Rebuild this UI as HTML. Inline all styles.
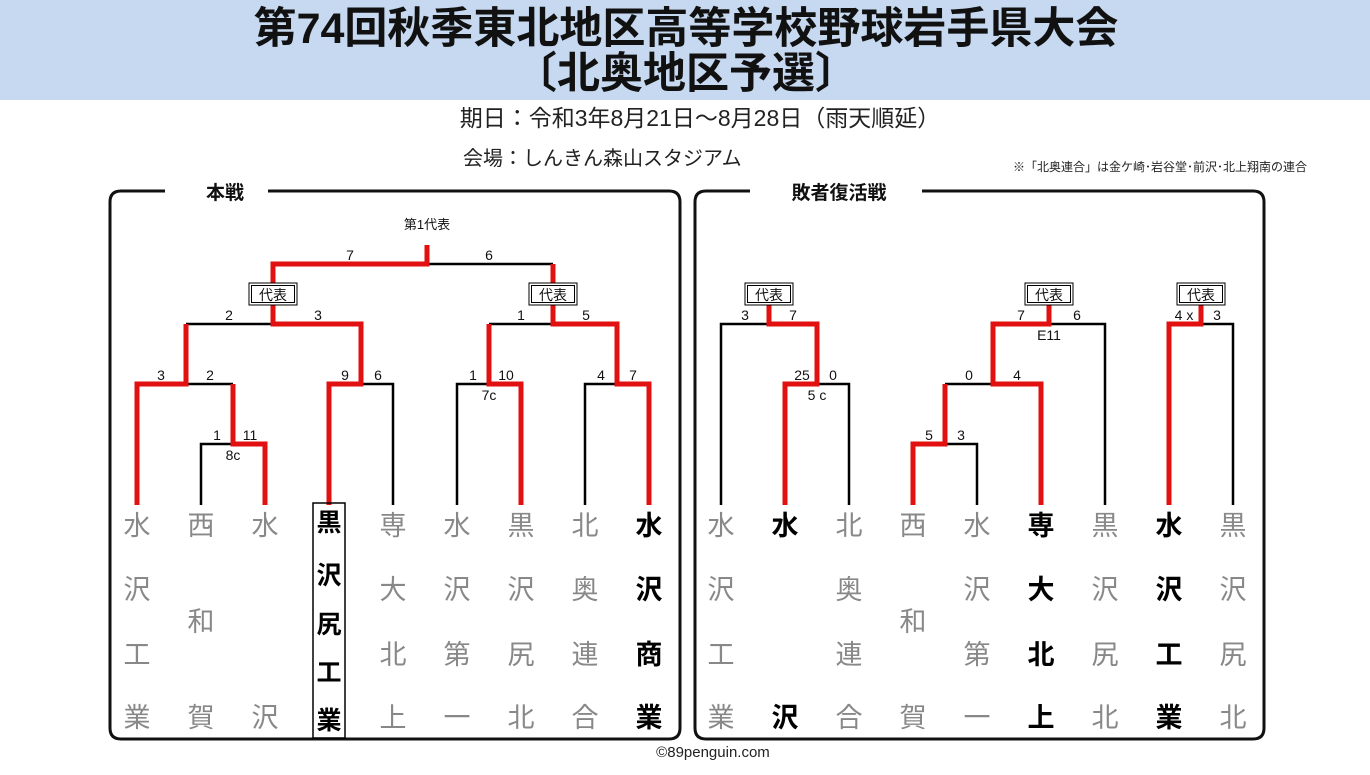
<!DOCTYPE html>
<html><head><meta charset="utf-8"><style>
body{margin:0;width:1370px;height:770px;background:#fff;overflow:hidden;font-family:"Liberation Sans","Noto Sans CJK JP",sans-serif;}
</style></head><body>
<svg width="1370" height="770" xmlns="http://www.w3.org/2000/svg" font-family="Liberation Sans, Noto Sans CJK JP, sans-serif">
<rect x="0" y="0" width="1370" height="100" fill="#c6d9f0"/>
<g font-weight="bold" font-size="43" text-anchor="middle" fill="#111">
<text x="686" y="43">第74回秋季東北地区高等学校野球岩手県大会</text>
<text x="686" y="88">〔北奥地区予選〕</text>
</g>
<text x="700" y="126" font-size="23" text-anchor="middle" fill="#222">期日：令和3年8月21日～8月28日（雨天順延）</text>
<text x="463" y="165" font-size="20" fill="#222">会場：しんきん森山スタジアム</text>
<text x="1307" y="171" font-size="12" text-anchor="end" fill="#222">※「北奥連合」は金ケ崎･岩谷堂･前沢･北上翔南の連合</text>
<text x="713" y="757" font-size="15" text-anchor="middle" fill="#222">©89penguin.com</text>

<g fill="none" stroke="#111" stroke-width="3">
<path d="M165,191 H121 Q110,191 110,202 V728 Q110,739 121,739 H669 Q680,739 680,728 V202 Q680,191 669,191 H268"/>
<path d="M750,191 H706 Q695,191 695,202 V728 Q695,739 706,739 H1253 Q1264,739 1264,728 V202 Q1264,191 1253,191 H922"/>
</g>
<g font-weight="bold" font-size="19" text-anchor="middle" fill="#111">
<text x="225" y="199">本戦</text>
<text x="839" y="199">敗者復活戦</text>
</g>

<g fill="none" stroke="#000" stroke-width="2.5">
<path d="M427,264 H553"/>
<path d="M186,324 H273 M489,324 H553"/>
<path d="M186,384 H233 M361,384 H393 V505 M457,505 V384 H489 M585,505 V384 H617"/>
<path d="M201,505 V444 H233"/>
<path d="M721,505 V324 H769 M817,384 H849 V505"/>
<path d="M1049,324 H1105 V505 M945,384 H993 M945,444 H977 V505"/>
<path d="M1201,324 H1233 V505"/>
</g>
<g fill="none" stroke="#e21010" stroke-width="5" stroke-linejoin="miter">
<path d="M427,245 V264 H273 V283"/>
<path d="M553,264 V283"/>
<path d="M273,305 V324 H361 V384 H329 V505"/>
<path d="M186,324 V384 H137 V505"/>
<path d="M233,384 V444 H265 V505"/>
<path d="M553,305 V324 H617 V384 H649 V505"/>
<path d="M489,324 V384 H521 V505"/>
<path d="M769,305 V324 H817 V384 H785 V505"/>
<path d="M1049,305 V324 H993 V384 H1041 V505"/>
<path d="M945,384 V444 H913 V505"/>
<path d="M1201,305 V324 H1169 V505"/>
</g>
<g fill="#fff" stroke="#000" stroke-width="1">
<rect x="249" y="283" width="48" height="22"/><rect x="251.5" y="285.5" width="43" height="17"/>
<rect x="529" y="283" width="48" height="22"/><rect x="531.5" y="285.5" width="43" height="17"/>
<rect x="745" y="283" width="48" height="22"/><rect x="747.5" y="285.5" width="43" height="17"/>
<rect x="1025" y="283" width="48" height="22"/><rect x="1027.5" y="285.5" width="43" height="17"/>
<rect x="1177" y="283" width="48" height="22"/><rect x="1179.5" y="285.5" width="43" height="17"/>
</g>
<g font-size="14" text-anchor="middle" fill="#111">
<text x="273" y="300">代表</text><text x="553" y="300">代表</text><text x="769" y="300">代表</text><text x="1049" y="300">代表</text><text x="1201" y="300">代表</text>
<text x="427" y="229" font-size="13">第1代表</text>
<text x="350" y="260">7</text><text x="489" y="260">6</text>
<text x="229" y="320">2</text><text x="318" y="320">3</text><text x="521" y="320">1</text><text x="586" y="320">5</text>
<text x="161" y="380">3</text><text x="210" y="380">2</text><text x="345" y="380">9</text><text x="378" y="380">6</text>
<text x="473" y="380">1</text><text x="506" y="380">10</text><text x="601" y="380">4</text><text x="633" y="380">7</text>
<text x="217" y="440">1</text><text x="250" y="440">11</text><text x="233" y="460">8c</text><text x="489" y="400">7c</text>
<text x="745" y="320">3</text><text x="793" y="320">7</text><text x="802" y="380">25</text><text x="833" y="380">0</text><text x="817" y="400">5 c</text>
<text x="1021" y="320">7</text><text x="1077" y="320">6</text><text x="1049" y="340">E11</text>
<text x="969" y="380">0</text><text x="1017" y="380">4</text><text x="929" y="440">5</text><text x="961" y="440">3</text>
<text x="1184" y="320">4 x</text><text x="1217" y="320">3</text>
</g>
<rect x="313" y="503" width="32" height="235" fill="none" stroke="#000" stroke-width="1.5"/>
<g font-size="27" text-anchor="middle" fill="#888">
<text x="137" y="535">水</text><text x="137" y="599">沢</text><text x="137" y="664">工</text><text x="137" y="727">業</text>
<text x="201" y="535">西</text><text x="201" y="631">和</text><text x="201" y="727">賀</text>
<text x="265" y="535">水</text><text x="265" y="727">沢</text>
<text x="393" y="535">専</text><text x="393" y="599">大</text><text x="393" y="664">北</text><text x="393" y="727">上</text>
<text x="457" y="535">水</text><text x="457" y="599">沢</text><text x="457" y="664">第</text><text x="457" y="727">一</text>
<text x="521" y="535">黒</text><text x="521" y="599">沢</text><text x="521" y="664">尻</text><text x="521" y="727">北</text>
<text x="585" y="535">北</text><text x="585" y="599">奥</text><text x="585" y="664">連</text><text x="585" y="727">合</text>
<text x="721" y="535">水</text><text x="721" y="599">沢</text><text x="721" y="664">工</text><text x="721" y="727">業</text>
<text x="849" y="535">北</text><text x="849" y="599">奥</text><text x="849" y="664">連</text><text x="849" y="727">合</text>
<text x="913" y="535">西</text><text x="913" y="631">和</text><text x="913" y="727">賀</text>
<text x="977" y="535">水</text><text x="977" y="599">沢</text><text x="977" y="664">第</text><text x="977" y="727">一</text>
<text x="1105" y="535">黒</text><text x="1105" y="599">沢</text><text x="1105" y="664">尻</text><text x="1105" y="727">北</text>
<text x="1233" y="535">黒</text><text x="1233" y="599">沢</text><text x="1233" y="664">尻</text><text x="1233" y="727">北</text>
</g>
<g font-size="27" font-weight="bold" text-anchor="middle" fill="#000">
<text x="649" y="535">水</text><text x="649" y="599">沢</text><text x="649" y="664">商</text><text x="649" y="727">業</text>
<text x="785" y="535">水</text><text x="785" y="727">沢</text>
<text x="1041" y="535">専</text><text x="1041" y="599">大</text><text x="1041" y="664">北</text><text x="1041" y="727">上</text>
<text x="1169" y="535">水</text><text x="1169" y="599">沢</text><text x="1169" y="664">工</text><text x="1169" y="727">業</text>
</g>
<g font-size="25" font-weight="bold" text-anchor="middle" fill="#000">
<text x="329" y="531">黒</text><text x="329" y="584">沢</text><text x="329" y="633">尻</text><text x="329" y="681">工</text><text x="329" y="729">業</text>
</g>
</svg>
</body></html>
